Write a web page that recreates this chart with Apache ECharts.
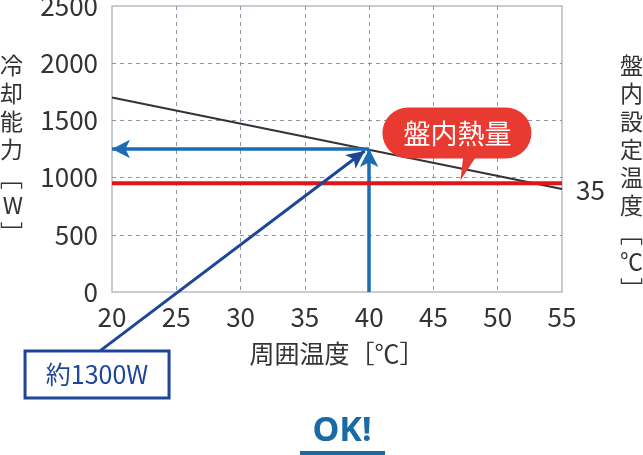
<!DOCTYPE html>
<html>
<head>
<meta charset="utf-8">
<script src="https://cdn.jsdelivr.net/npm/echarts@6/dist/echarts.min.js"></script>
<style>
html, body { margin: 0; padding: 0; background: #fff; }
#main { width: 643px; height: 455px; }
</style>
</head>
<body>
<div id="main"></div>
<script>
// 横軸：周囲温度［℃］ / 縦軸：冷却能力［W］
var xMin = 20, xMax = 55, xStep = 5;
var yMin = 0, yMax = 2500, yStep = 500;

// 冷却能力（黒線）
var capacityLine = [[20, 1700], [55, 900]];
// 盤内熱量（赤線）と盤内設定温度
var heatLine = [[20, 950], [55, 950]];
var setTemp = '35';

// 読み取り矢印：周囲温度40℃ → 冷却能力
var readTemp = 40;
var readWatt = 1250;

// 引出線（約1300W）と吹き出し（盤内熱量）
var calloutFrom = [19.07, -515];
var calloutTo = [39.65, 1232];
var calloutText = '約1300W';
var heatTip = [47.1, 975];
var heatText = '盤内熱量';

var font = '"Noto Sans CJK JP", "Noto Sans", sans-serif';
var blue = '#1b6db3';
var navy = '#1d4699';
var red = '#e1141c';

function vertical(s) { return s.split('').join('\n'); }
function plain(v) { return String(v); }

var chart = echarts.init(document.getElementById('main'));

var option = {
  animation: false,
  textStyle: { fontFamily: font },
  grid: {
    left: 112, right: 81, top: 6, bottom: 163, outerBoundsMode: 'none', containLabel: false,
    show: true, borderColor: '#b4bcc4', borderWidth: 1.5
  },
  xAxis: {
    type: 'value', min: xMin, max: xMax, interval: xStep,
    axisLine: { show: false }, axisTick: { show: false },
    axisLabel: { color: '#333', fontSize: 26, margin: 12, fontFamily: font, formatter: plain },
    splitLine: { show: true, showMinLine: false, showMaxLine: false,
      lineStyle: { color: '#8c96a2', type: [4, 4], width: 1 } },
    name: '周囲温度［℃］', nameLocation: 'middle', nameGap: 49,
    nameTextStyle: { color: '#333', fontSize: 25, fontFamily: font }
  },
  yAxis: [{
    type: 'value', min: yMin, max: yMax, interval: yStep,
    axisLine: { show: false }, axisTick: { show: false },
    axisLabel: { color: '#333', fontSize: 26, margin: 14, fontFamily: font, formatter: plain },
    splitLine: { show: true, showMinLine: false, showMaxLine: false,
      lineStyle: { color: '#8c96a2', type: [4, 4], width: 1 } },
    name: vertical('冷却能力﹇W﹈'), nameLocation: 'middle', nameRotate: 0, nameGap: 89,
    nameTextStyle: { color: '#333', fontSize: 23, lineHeight: 28, fontFamily: font }
  }, {
    type: 'value', position: 'right', min: yMin, max: yMax, interval: yStep,
    axisLine: { show: false }, axisTick: { show: false },
    axisLabel: { show: false }, splitLine: { show: false },
    // 先頭の空行で名前を少し下げる
    name: '\n\n' + vertical('盤内設定温度﹇℃﹈'), nameLocation: 'middle', nameRotate: 0, nameGap: 58,
    nameTextStyle: { color: '#333', fontSize: 23, lineHeight: 28, fontFamily: font }
  }],
  series: [{
    name: 'capacity', type: 'line', data: capacityLine, symbol: 'none', z: 2,
    lineStyle: { color: '#333', width: 2 }
  }, {
    name: 'read', type: 'line', data: [[readTemp, readWatt]], symbol: 'none', z: 3,
    markLine: {
      silent: true, z: 3, symbol: ['none', 'arrow'], symbolSize: [14, 18],
      label: { show: false },
      lineStyle: { color: blue, width: 3.5, type: 'solid' },
      data: [
        [{ coord: [readTemp, yMin] }, { coord: [readTemp, readWatt] }],
        [{ coord: [readTemp, readWatt] }, { coord: [xMin, readWatt] }]
      ]
    }
  }, {
    name: 'heat', type: 'line', data: heatLine, symbol: 'none', z: 4,
    lineStyle: { color: red, width: 4 },
    endLabel: { show: true, formatter: setTemp, color: '#333', fontSize: 26,
      fontFamily: font, distance: 14, offset: [0, 7] }
  }, {
    id: 'callout', name: 'callout', type: 'line', data: [], symbol: 'none', z: 5
  }]
};

chart.setOption(option);

var px = function (v) { return chart.convertToPixel({ gridIndex: 0 }, v); };
var a0 = px(calloutFrom), a1 = px(calloutTo), tp = px(heatTip);

chart.setOption({
  series: [{
    id: 'callout',
    markLine: {
      silent: true, z: 6, symbol: ['none', 'arrow'], symbolSize: [13, 18],
      label: { show: false },
      lineStyle: { color: navy, width: 3, type: 'solid' },
      data: [[{ x: a0[0], y: a0[1] }, { x: a1[0], y: a1[1] }]]
    }
  }],
  graphic: [
    // 吹き出し
    { type: 'rect', z: 20, shape: { x: tp[0] - 78, y: tp[1] - 73, width: 149, height: 51, r: 25.5 },
      style: { fill: '#e83a30' } },
    { type: 'polygon', z: 20, shape: { points: [[tp[0] + 3, tp[1] - 26], [tp[0] + 17, tp[1] - 26], [tp[0], tp[1]]] },
      style: { fill: '#e83a30' } },
    { type: 'text', z: 21, style: { text: heatText, x: tp[0] - 3, y: tp[1] - 47, align: 'center', verticalAlign: 'middle',
      fill: '#fff', fontSize: 27, fontFamily: font } },
    // 約1300W の枠
    { type: 'rect', z: 20, shape: { x: a0[0] - 75, y: a0[1], width: 144, height: 47 },
      style: { fill: '#fff', stroke: navy, lineWidth: 3 } },
    { type: 'text', z: 21, style: { text: calloutText, x: a0[0] - 3, y: a0[1] + 24, align: 'center', verticalAlign: 'middle',
      fill: navy, fontSize: 25, fontFamily: font } },
    // OK!
    { type: 'text', z: 21, style: { text: 'OK!', x: 342, y: 431, align: 'center', verticalAlign: 'middle',
      fill: '#1a6aa5', fontSize: 34, fontWeight: 'bold', fontFamily: '"Noto Sans", sans-serif' } },
    { type: 'rect', z: 21, shape: { x: 300, y: 451, width: 85, height: 4 }, style: { fill: '#1a6aa5' } }
  ]
});
</script>
</body>
</html>
